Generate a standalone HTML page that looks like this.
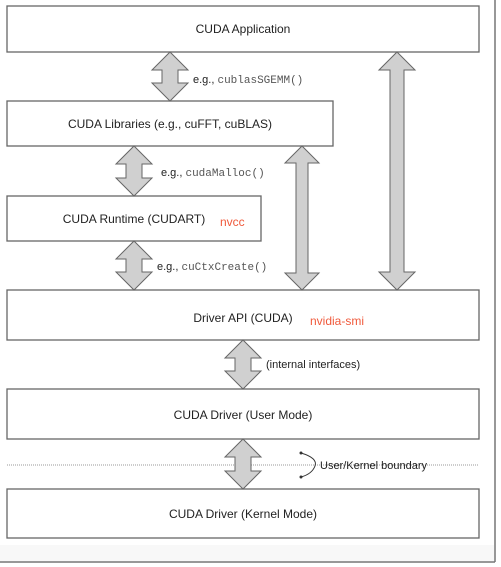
<!DOCTYPE html>
<html><head><meta charset="utf-8"><style>
html,body{margin:0;padding:0;background:#fff;}
svg{display:block;}
text{font-family:"Liberation Sans",Arial,sans-serif;fill:#222;}
.m{font-family:"Liberation Mono",monospace;fill:#555;}
.r{fill:#f05a3c;}
</style></head><body>
<svg width="501" height="567" viewBox="0 0 501 567" xmlns="http://www.w3.org/2000/svg">
<rect x="0" y="0" width="494" height="561" fill="#fff"/>
<rect x="0" y="545" width="494" height="16" fill="#f8f8f8"/>
<line x1="495" y1="0" x2="495" y2="562" stroke="#777" stroke-width="1.5"/>
<line x1="0" y1="562" x2="495" y2="562" stroke="#777" stroke-width="1.5"/>
<g fill="#fff" stroke="#666" stroke-width="1.3">
<rect x="7" y="6" width="472" height="46"/>
<rect x="7" y="101" width="326" height="45"/>
<rect x="7" y="196" width="254" height="45"/>
<rect x="7" y="290" width="472" height="50"/>
<rect x="7" y="389" width="472" height="50"/>
<rect x="7" y="489" width="472" height="49"/>
</g>
<line x1="7" y1="465" x2="478" y2="465" stroke="#999" stroke-width="1" stroke-dasharray="1,1"/>
<g fill="#d0d0d0" stroke="#666" stroke-width="1">
<path d="M170 52 L188 70 L178 70 L178 83 L188 83 L170 101 L152 83 L162 83 L162 70 L152 70 Z"/>
<path d="M134 146 L152 164 L142 164 L142 178 L152 178 L134 196 L116 178 L126 178 L126 164 L116 164 Z"/>
<path d="M134 241 L152 259 L142 259 L142 272 L152 272 L134 290 L116 272 L126 272 L126 259 L116 259 Z"/>
<path d="M302 146 L319 163 L308 163 L308 273 L319 273 L302 290 L285 273 L296 273 L296 163 L285 163 Z"/>
<path d="M397 52 L415 70 L404 70 L404 272 L415 272 L397 290 L379 272 L390 272 L390 70 L379 70 Z"/>
<path d="M243 340 L261 358 L251 358 L251 371 L261 371 L243 389 L225 371 L235 371 L235 358 L225 358 Z"/>
<path d="M243 439 L261 457 L251 457 L251 471 L261 471 L243 489 L225 471 L235 471 L235 457 L225 457 Z"/>
</g>
<path d="M301 453 Q318 458 315 466 Q312 474 301 477" fill="none" stroke="#333" stroke-width="1"/>
<circle cx="301" cy="453" r="1.5" fill="#333"/><circle cx="301" cy="477" r="1.5" fill="#333"/>
<g font-size="12" text-anchor="middle">
<text x="243" y="33">CUDA Application</text>
<text x="170" y="128">CUDA Libraries (e.g., cuFFT, cuBLAS)</text>
<text x="134" y="223">CUDA Runtime (CUDART)</text>
<text x="243" y="322">Driver API (CUDA)</text>
<text x="243" y="419">CUDA Driver (User Mode)</text>
<text x="243" y="518">CUDA Driver (Kernel Mode)</text>
</g>
<text x="220" y="226" font-size="12" class="r">nvcc</text>
<text x="310" y="325" font-size="12" class="r">nvidia-smi</text>
<g font-size="11">
<text x="193" y="83">e.g., <tspan class="m">cublasSGEMM()</tspan></text>
<text x="161" y="176">e.g., <tspan class="m">cudaMalloc()</tspan></text>
<text x="157" y="270">e.g., <tspan class="m">cuCtxCreate()</tspan></text>
<text x="266" y="368">(internal interfaces)</text>
<text x="320" y="469">User/Kernel boundary</text>
</g>
</svg>
</body></html>
